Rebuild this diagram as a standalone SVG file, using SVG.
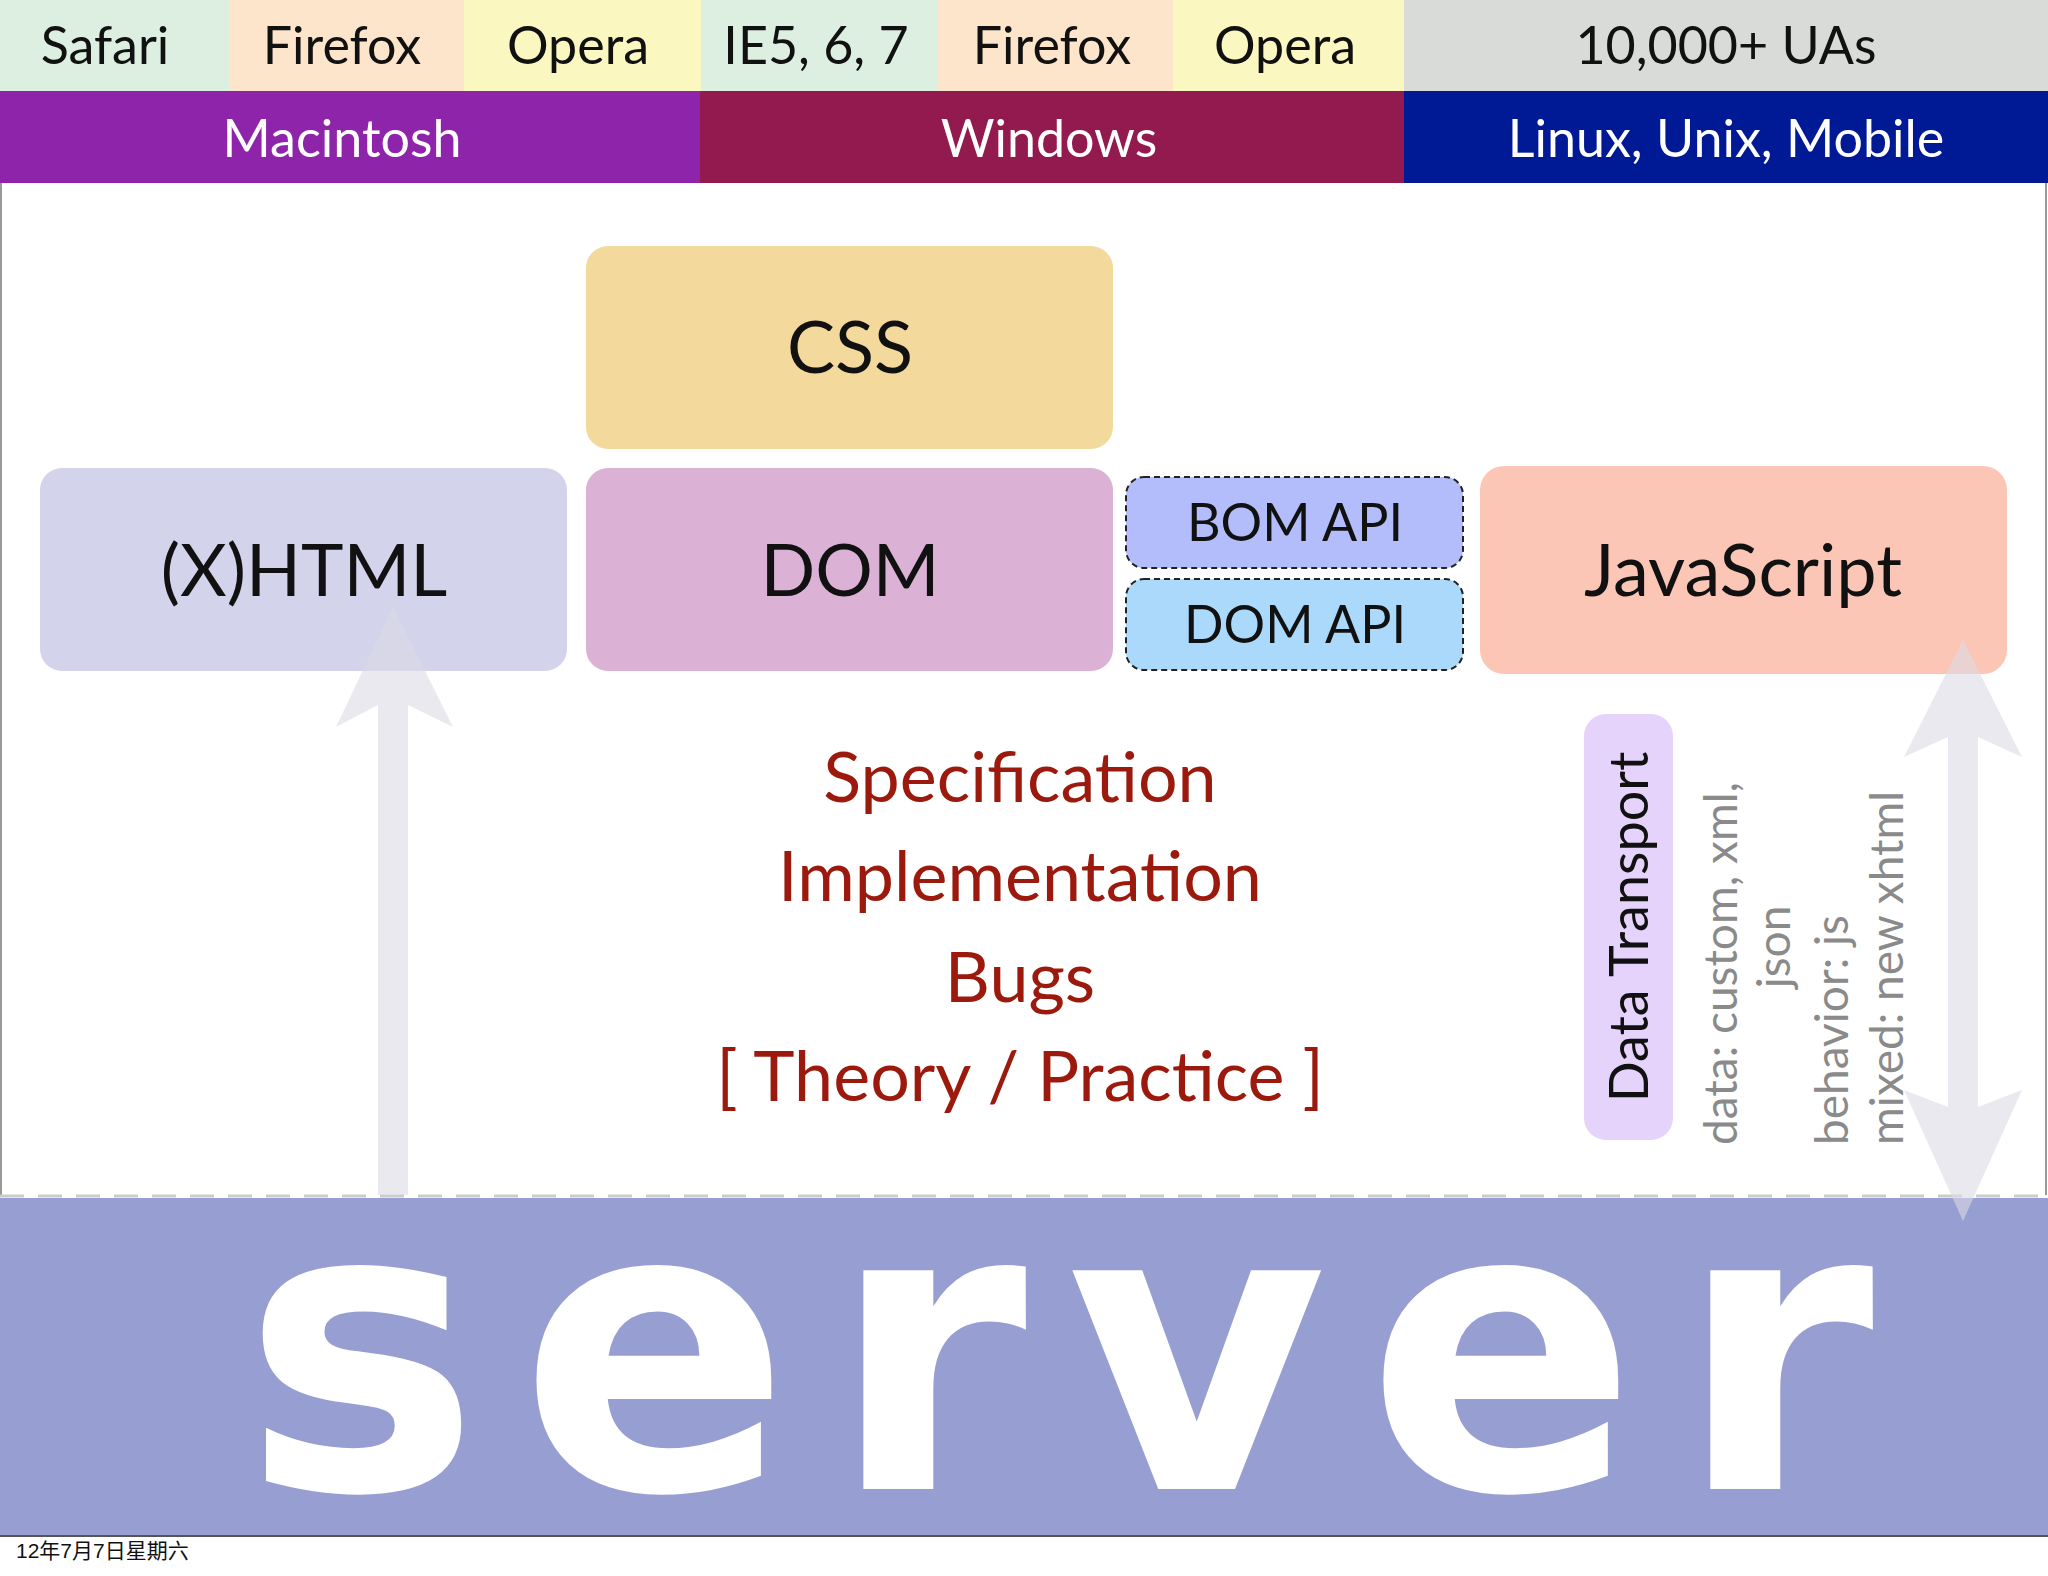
<svg xmlns="http://www.w3.org/2000/svg" width="2048" height="1576" viewBox="0 0 2048 1576">
<style>
.t{font-family:"Lato","Open Sans","Liberation Sans",sans-serif;text-anchor:middle}
.top{font-size:52px;fill:#111}
.os{font-size:52px;fill:#fff}
.box{font-size:72px;fill:#111}
.api{font-size:52px;fill:#111}
.red{font-size:70px;fill:#9b1a0d}
.gray{font-family:"Lato","Open Sans","Liberation Sans",sans-serif;font-size:46px;fill:#8a8a8a}
</style>
<rect width="2048" height="1576" fill="#fff"/>
<g id="browsers">
<rect x="0" y="0" width="229" height="91" fill="#dcefe0"/>
<rect x="229" y="0" width="235" height="91" fill="#fde5cc"/>
<rect x="464" y="0" width="237" height="91" fill="#fbf7c0"/>
<rect x="701" y="0" width="237" height="91" fill="#dcefe0"/>
<rect x="938" y="0" width="235" height="91" fill="#fde5cc"/>
<rect x="1173" y="0" width="231" height="91" fill="#fbf7c0"/>
<rect x="1404" y="0" width="644" height="91" fill="#d9dbd9"/>
<text class="t top" x="105" y="64">Safari</text>
<text class="t top" x="342" y="64">Firefox</text>
<text class="t top" x="578" y="64">Opera</text>
<text class="t top" x="816" y="64">IE5, 6, 7</text>
<text class="t top" x="1052" y="64">Firefox</text>
<text class="t top" x="1285" y="64">Opera</text>
<text class="t top" x="1726" y="64">10,000+ UAs</text>
</g>
<g id="platforms">
<rect x="0" y="91" width="700" height="92" fill="#8e24aa"/>
<rect x="700" y="91" width="704" height="92" fill="#921a4f"/>
<rect x="1404" y="91" width="644" height="92" fill="#001a96"/>
<text class="t os" x="342" y="157">Macintosh</text>
<text class="t os" x="1049" y="157">Windows</text>
<text class="t os" x="1726" y="157">Linux, Unix, Mobile</text>
</g>
<line x1="1" y1="183" x2="1" y2="1195" stroke="#999" stroke-width="2"/>
<line x1="2046" y1="183" x2="2046" y2="1195" stroke="#999" stroke-width="2"/>
<g id="server">
<rect x="0" y="1198" width="2048" height="338" fill="#979fd2"/>
<line x1="0" y1="1536" x2="2048" y2="1536" stroke="#555" stroke-width="2"/>
<text x="242" y="1489" font-family="DejaVu Sans,Liberation Sans,sans-serif" font-weight="bold" font-size="400" fill="#fff" textLength="1632" lengthAdjust="spacing">server</text>
</g>
<line x1="0" y1="1196" x2="2048" y2="1196" stroke="#ccc" stroke-width="3" stroke-dasharray="24,14"/>
<g id="css"><rect x="586" y="246" width="527" height="203" rx="22" fill="#f3d99b"/><text class="t box" x="850" y="373">CSS</text></g>
<g id="xhtml"><rect x="40" y="468" width="527" height="203" rx="22" fill="#d3d3ec"/><text class="t box" x="304" y="596">(X)HTML</text></g>
<g id="dom"><rect x="586" y="468" width="527" height="203" rx="22" fill="#dbb1d6"/><text class="t box" x="850" y="596">DOM</text></g>
<g id="bomapi"><rect x="1126" y="477" width="337" height="91" rx="18" fill="#b3bdfb" stroke="#222" stroke-width="2" stroke-dasharray="6,4"/><text class="t api" x="1295" y="541">BOM API</text></g>
<g id="domapi"><rect x="1126" y="579" width="337" height="91" rx="18" fill="#aad9fb" stroke="#222" stroke-width="2" stroke-dasharray="6,4"/><text class="t api" x="1295" y="643">DOM API</text></g>
<g id="javascript"><rect x="1480" y="466" width="527" height="208" rx="24" fill="#fcc6b7"/><text class="t box" x="1743" y="596">JavaScript</text></g>
<g id="connectors" fill="#dcdae4" opacity="0.6">
<polygon points="393,607 453,727 408,705 408,1195 378,1195 378,705 336,727"/>
<polygon points="1963,640 2022,757 1978,737 1978,1107 2022,1090 1963,1221 1904,1090 1948,1107 1948,737 1904,757"/>
</g>
<g id="center">
<text class="t red" x="1020" y="802">Specification</text>
<text class="t red" x="1020" y="901">Implementation</text>
<text class="t red" x="1020" y="1002">Bugs</text>
<text class="t red" x="1020" y="1101">[ Theory / Practice ]</text>
</g>
<g id="datatransport">
<rect x="1584" y="714" width="89" height="426" rx="22" fill="#e5d3fb"/>
<text class="t" font-size="54" fill="#111" transform="translate(1648,927) rotate(-90)">Data Transport</text>
</g>
<g id="formats">
<text class="gray" transform="translate(1737,1145) rotate(-90)">data: custom, xml,</text>
<text class="gray" text-anchor="middle" transform="translate(1790,947) rotate(-90)">json</text>
<text class="gray" transform="translate(1848,1145) rotate(-90)">behavior: js</text>
<text class="gray" transform="translate(1903,1145) rotate(-90)">mixed: new xhtml</text>
</g>
<text x="16" y="1558" font-family="Liberation Sans,Noto Sans CJK SC,sans-serif" font-size="21" fill="#111">12年7月7日星期六</text>
</svg>
